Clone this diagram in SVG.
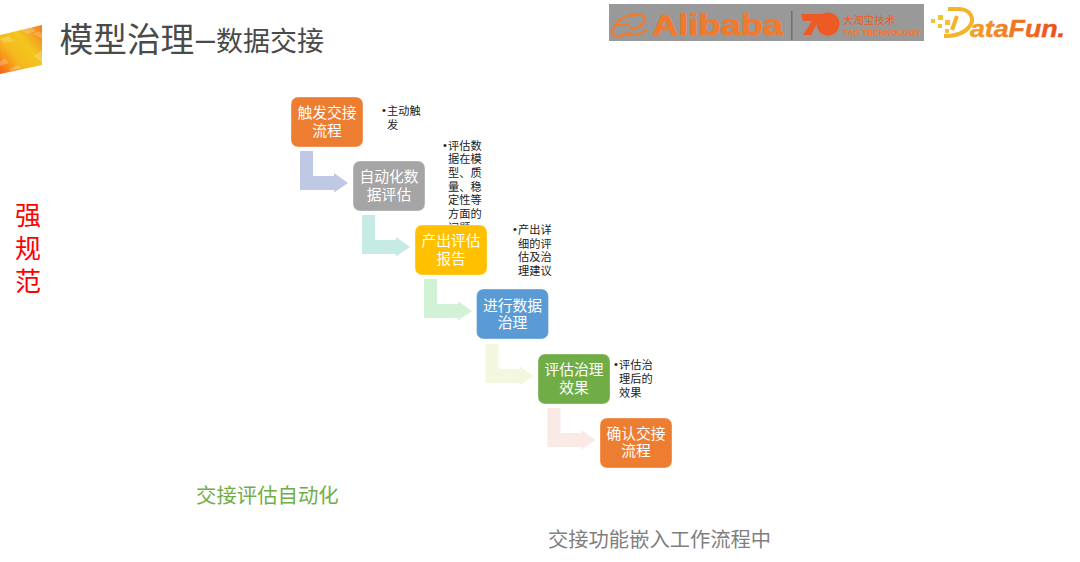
<svg xmlns="http://www.w3.org/2000/svg" width="1080" height="562" viewBox="0 0 1080 562">
<style>
text{font-family:"Noto Sans CJK SC","Noto Sans",sans-serif}
.n{fill:#fff;font-size:14.8px;text-anchor:middle}
.b{stroke:#fff;stroke-opacity:.35;stroke-width:1}
.t{fill:#222;font-size:11.2px}
.d{font-family:"Liberation Sans",sans-serif}
.h{fill:#4a4a4a}
.p{fill:#fff;fill-opacity:.22}
.s{fill:#f2c230}
</style>
<defs>
<linearGradient id="g" x1="0" y1="1" x2="1" y2="0"><stop offset="0" stop-color="#f6621a"/><stop offset=".35" stop-color="#f5b81c"/><stop offset=".62" stop-color="#f3c61e"/><stop offset="1" stop-color="#f37a22"/></linearGradient>
<linearGradient id="f" x1="0" y1="0" x2="1" y2="0"><stop offset="0" stop-color="#f5a128"/><stop offset="1" stop-color="#e9481c"/></linearGradient>
<path id="a" d="M0 0H13V25H34V22L48 32L34 41.500V39H0Z"/>
</defs>
<rect width="1080" height="562" fill="#fff"/>
<polygon points="0,35 42,25 42,65 0,74" fill="url(#g)"/>
<polygon class="p" points="22,31 30,26 36,31 28,34"/>
<polygon class="p" points="33,34 39,31 42,34 42,38"/>
<polygon class="p" points="0,39 8,36 14,41 5,43"/>
<polygon class="p" points="0,62 4,58 9,63 0,66"/>
<polygon class="p" points="34,56 42,50 42,62"/>
<polygon class="p" points="8,70 17,65 22,68 12,71"/>
<text x="59.500" y="52" class="h" font-size="33.700">模型治理</text>
<text x="196" y="50" class="h d" font-size="34">–</text>
<text x="216" y="51" class="h" font-size="27">数据交接</text>
<g id="logo-alibaba">
<rect x="609" y="4" width="315" height="37" fill="#999"/>
<path d="M636 15C626 13 613 24 612 32C611 38 620 37 630 32M617 25H629M631 17C640 12 649 16 643 23C639 28 634 30 630 27M628 34C635 36 641 33 647 30" fill="none" stroke="#f07a2e" stroke-width="2.200"/>
<text x="652" y="35" class="d" font-weight="700" font-size="29" fill="#f07a2e" stroke="#f07a2e" stroke-width=".7" textLength="131" lengthAdjust="spacingAndGlyphs">Alibaba</text>
<rect x="791" y="11" width="1.500" height="29" fill="#707070"/>
<polygon points="801,14 822,14 811,35 803,35 812,21 803,21" fill="#ee5a24"/>
<circle cx="828" cy="24" r="11.500" fill="#ee5a24"/>
<text x="843" y="24" font-size="10.400" fill="#ee5a24">大淘宝技术</text>
<text x="843" y="35" class="d" font-weight="700" font-size="8" fill="#ee7a30" stroke="#ee7a30" stroke-width=".2" textLength="78" lengthAdjust="spacingAndGlyphs">TAO TECHNOLOGY</text>
</g>
<g id="logo-datafun">
<path d="M948 9H958C972 9 975 20 969 27C963 35 953 36 944 36M957 16L952 30" fill="none" stroke="#f3b32b" stroke-width="4"/>
<rect class="s" x="931" y="19" width="4" height="4"/><rect class="s" x="938" y="15" width="5" height="5"/><rect class="s" x="938" y="24" width="4" height="4"/><rect class="s" x="945" y="20" width="5" height="5"/><rect class="s" x="945" y="29" width="4" height="4"/>
<text x="970" y="37" class="d" font-weight="700" font-style="italic" font-size="23" fill="url(#f)" stroke="url(#f)" stroke-width=".4" textLength="95" lengthAdjust="spacingAndGlyphs">ataFun.</text>
</g>
<g id="connectors">
<use href="#a" x="300" y="151" fill="#bfc8e4"/>
<use href="#a" x="362" y="215" fill="#c6ebe5"/>
<use href="#a" x="424" y="279" fill="#d2f2d5"/>
<use href="#a" x="485.500" y="344" fill="#f3f7df"/>
<use href="#a" x="547.500" y="408" fill="#fbe9e5"/>
</g>
<g id="note-1" class="t"><text class="d" x="382" y="114">•</text><text x="387" y="115">主动触</text><text x="387" y="129">发</text></g>
<g id="note-2" class="t"><text class="d" x="443" y="149">•</text><text x="448" y="149.500">评估数</text><text x="448" y="163">据在模</text><text x="448" y="177">型、质</text><text x="448" y="190.500">量、稳</text><text x="448" y="204">定性等</text><text x="448" y="218">方面的</text><text x="448" y="231.500">问题</text></g>
<g id="note-3" class="t"><text class="d" x="513" y="233">•</text><text x="518" y="234">产出详</text><text x="518" y="248">细的评</text><text x="518" y="261">估及治</text><text x="518" y="275">理建议</text></g>
<g id="note-5" class="t"><text class="d" x="614" y="368">•</text><text x="619" y="369">评估治</text><text x="619" y="383">理后的</text><text x="619" y="397">效果</text></g>
<g id="node-1"><rect class="b" x="291" y="97" width="72" height="50" rx="7" fill="#ed7d31"/><text class="n" x="327" y="118">触发交接</text><text class="n" x="327" y="136">流程</text></g>
<g id="node-2"><rect class="b" x="353" y="161" width="72" height="50" rx="7" fill="#a5a5a5"/><text class="n" x="389" y="182">自动化数</text><text class="n" x="389" y="200">据评估</text></g>
<g id="node-3"><rect class="b" x="415" y="225" width="72" height="50" rx="7" fill="#ffc000"/><text class="n" x="451" y="246">产出评估</text><text class="n" x="451" y="264">报告</text></g>
<g id="node-4"><rect class="b" x="476.500" y="289" width="72" height="50" rx="7" fill="#5b9bd5"/><text class="n" x="512.500" y="311">进行数据</text><text class="n" x="512.500" y="328">治理</text></g>
<g id="node-5"><rect class="b" x="538" y="354" width="72" height="50" rx="7" fill="#70ad47"/><text class="n" x="574" y="375">评估治理</text><text class="n" x="574" y="393">效果</text></g>
<g id="node-6"><rect class="b" x="600" y="418" width="72" height="50" rx="7" fill="#ed7d31"/><text class="n" x="636" y="439">确认交接</text><text class="n" x="636" y="456">流程</text></g>
<g font-size="26" fill="#ff0000" text-anchor="middle"><text x="28" y="225">强</text><text x="28" y="258">规</text><text x="28" y="291">范</text></g>
<text x="196" y="503" font-size="20.400" fill="#70ad47">交接评估自动化</text>
<text x="548" y="547" font-size="20.300" fill="#7f7f7f">交接功能嵌入工作流程中</text>
</svg>
